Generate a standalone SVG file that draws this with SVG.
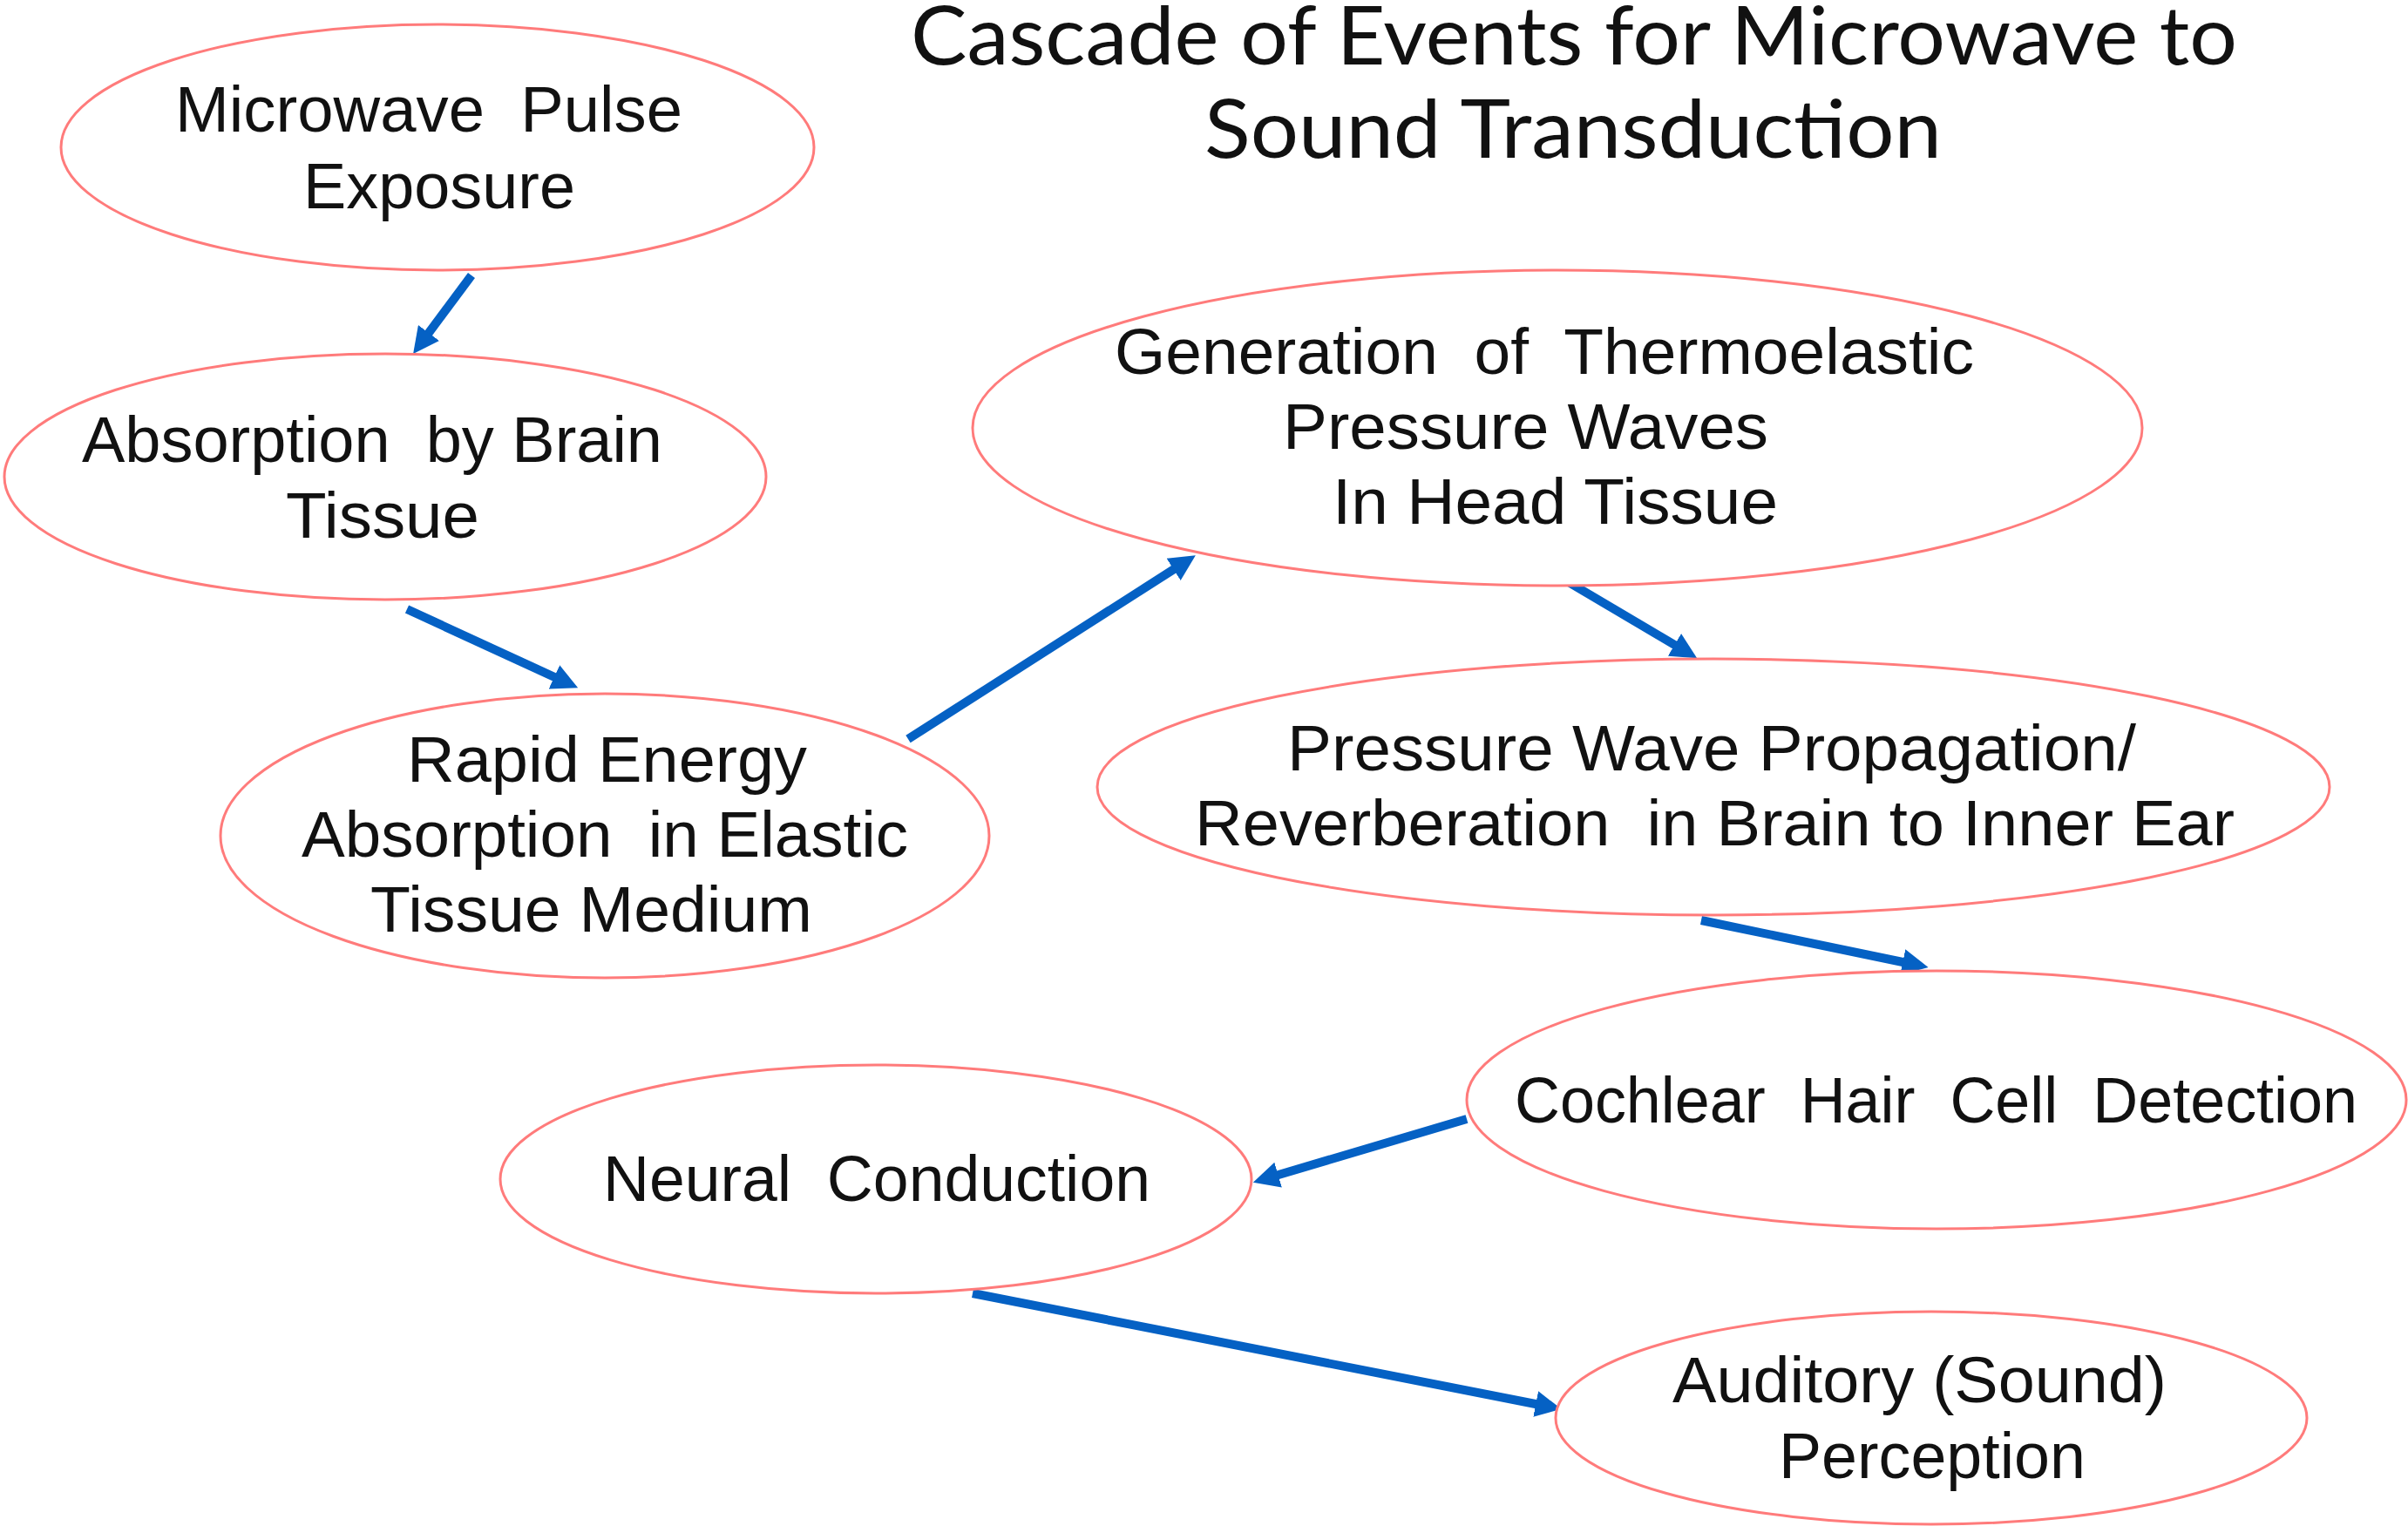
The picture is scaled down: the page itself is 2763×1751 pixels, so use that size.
<svg xmlns="http://www.w3.org/2000/svg" width="2763" height="1751" viewBox="0 0 2763 1751">
<style>
.node ellipse{fill:#fff;stroke:#ff7b7b;stroke-width:3}
.node text{font-family:"Liberation Sans",Arial,sans-serif;font-size:75px;fill:#111;white-space:pre}
.title text{font-family:Lato,"Liberation Sans",sans-serif;font-size:94px;fill:#111}
.conn line{stroke:#0561c4;stroke-width:10;fill:none;marker-end:url(#ah)}
</style>
<defs>
<marker id="ah" markerUnits="userSpaceOnUse" markerWidth="30" markerHeight="30" refX="10" refY="15" orient="auto">
<path d="M0,0 L30,15 L0,30 Z" fill="#0561c4"/>
</marker>
</defs>
<rect width="2763" height="1751" fill="#fff"/>
<g class="title" id="title">
<text x="1045" y="74" textLength="1522" lengthAdjust="spacingAndGlyphs">Cascade of Events for Microwave to</text>
<text x="1382" y="181" textLength="846" lengthAdjust="spacingAndGlyphs">Sound Transduction</text>
</g>
<g class="conn" id="connectors">
<line x1="541" y1="316" x2="486" y2="390"/>
<line x1="467" y1="699" x2="645" y2="781"/>
<line x1="1042" y1="848" x2="1355" y2="648"/>
<line x1="1793" y1="664" x2="1930" y2="745"/>
<line x1="1952" y1="1056" x2="2193" y2="1106"/>
<line x1="1683" y1="1284" x2="1457" y2="1351"/>
<line x1="1116" y1="1484" x2="1772" y2="1613"/>
</g>
<g class="node" id="n1">
<ellipse cx="502" cy="169" rx="432" ry="141"/>
<text x="201" y="151" textLength="582" lengthAdjust="spacingAndGlyphs">Microwave  Pulse</text>
<text x="348" y="239" textLength="312" lengthAdjust="spacingAndGlyphs">Exposure</text>
</g>
<g class="node" id="n2">
<ellipse cx="442" cy="547" rx="437" ry="141"/>
<text x="94" y="530" textLength="666" lengthAdjust="spacingAndGlyphs">Absorption  by Brain</text>
<text x="328" y="617" textLength="222" lengthAdjust="spacingAndGlyphs">Tissue</text>
</g>
<g class="node" id="n3">
<ellipse cx="694" cy="959" rx="441" ry="163"/>
<text x="467" y="897" textLength="459" lengthAdjust="spacingAndGlyphs">Rapid Energy</text>
<text x="346" y="983" textLength="696" lengthAdjust="spacingAndGlyphs">Absorption  in Elastic</text>
<text x="425" y="1069" textLength="507" lengthAdjust="spacingAndGlyphs">Tissue Medium</text>
</g>
<g class="node" id="n4">
<ellipse cx="1787" cy="491" rx="671" ry="181"/>
<text x="1279" y="429" textLength="986" lengthAdjust="spacingAndGlyphs">Generation  of  Thermoelastic</text>
<text x="1472" y="515" textLength="557" lengthAdjust="spacingAndGlyphs">Pressure Waves</text>
<text x="1529" y="601" textLength="511" lengthAdjust="spacingAndGlyphs">In Head Tissue</text>
</g>
<g class="node" id="n5">
<ellipse cx="1966" cy="903" rx="707" ry="147"/>
<text x="1477" y="884" textLength="974" lengthAdjust="spacingAndGlyphs">Pressure Wave Propagation/</text>
<text x="1371" y="970" textLength="1193" lengthAdjust="spacingAndGlyphs">Reverberation  in Brain to Inner Ear</text>
</g>
<g class="node" id="n6">
<ellipse cx="2222" cy="1262" rx="539" ry="148"/>
<text x="1738" y="1288" textLength="967" lengthAdjust="spacingAndGlyphs">Cochlear  Hair  Cell  Detection</text>
</g>
<g class="node" id="n7">
<ellipse cx="1005" cy="1353" rx="431" ry="131"/>
<text x="692" y="1378" textLength="628" lengthAdjust="spacingAndGlyphs">Neural  Conduction</text>
</g>
<g class="node" id="n8">
<ellipse cx="2216" cy="1627" rx="431" ry="122"/>
<text x="1919" y="1609" textLength="567" lengthAdjust="spacingAndGlyphs">Auditory (Sound)</text>
<text x="2041" y="1696" textLength="352" lengthAdjust="spacingAndGlyphs">Perception</text>
</g>
</svg>
